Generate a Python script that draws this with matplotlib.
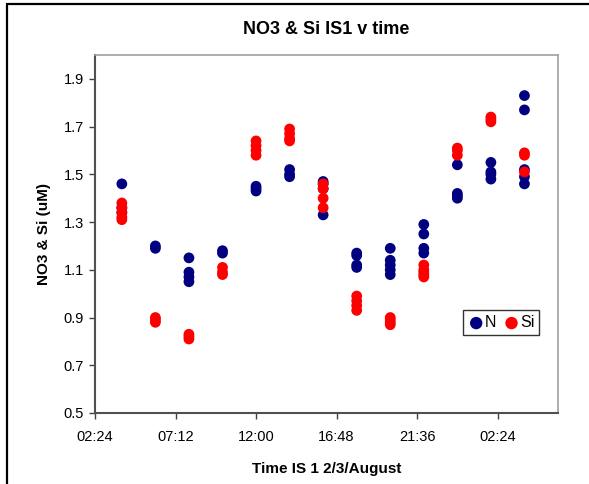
import matplotlib
matplotlib.use("Agg")
import matplotlib.pyplot as plt
from matplotlib.patches import Rectangle

plt.rcParams['font.family'] = ['Liberation Sans', 'DejaVu Sans']

# Sampling times, hours after midnight on 2 August
sample_hours = [4, 6, 8, 10, 12, 14, 16, 18, 20, 22, 24, 26, 28]

# Nitrate (N) concentrations, uM, per sampling time
n_values = [
    [1.46, 1.36, 1.34],
    [1.20, 1.19],
    [1.15, 1.09, 1.07, 1.05],
    [1.18, 1.17],
    [1.45, 1.44, 1.43],
    [1.52, 1.50, 1.49],
    [1.47, 1.46, 1.44, 1.33],
    [1.17, 1.16, 1.12, 1.11],
    [1.19, 1.14, 1.12, 1.10, 1.08],
    [1.29, 1.25, 1.19, 1.17],
    [1.54, 1.42, 1.41, 1.40],
    [1.55, 1.51, 1.50, 1.48],
    [1.83, 1.77, 1.52, 1.49, 1.46],
]

# Silicate (Si) concentrations, uM, per sampling time
si_values = [
    [1.38, 1.36, 1.34, 1.32, 1.31],
    [0.90, 0.89, 0.88],
    [0.83, 0.82, 0.81],
    [1.11, 1.09, 1.08],
    [1.64, 1.62, 1.60, 1.58],
    [1.69, 1.67, 1.65, 1.64],
    [1.46, 1.44, 1.40, 1.36],
    [0.99, 0.97, 0.95, 0.93],
    [0.90, 0.89, 0.88, 0.87],
    [1.12, 1.10, 1.09, 1.08, 1.07],
    [1.61, 1.60, 1.58],
    [1.74, 1.73, 1.72],
    [1.59, 1.58, 1.51],
]

tick_days = [0.1, 0.3, 0.5, 0.7, 0.9, 1.1]
tick_labels = ["02:24", "07:12", "12:00", "16:48", "21:36", "02:24"]
y_ticks = [0.5, 0.7, 0.9, 1.1, 1.3, 1.5, 1.7, 1.9]


def flatten(hours, groups):
    xs, ys = [], []
    for h, vals in zip(hours, groups):
        for v in vals:
            xs.append(h / 24.0)
            ys.append(v)
    return xs, ys


fig = plt.figure(figsize=(5.89, 4.84), dpi=100)
fig.patch.set_facecolor("white")

# chart-area frame
fig.add_artist(Rectangle((7 / 589, -0.2), 1.5, 1.2 - 4 / 484,
                         transform=fig.transFigure, fill=False,
                         edgecolor="black", linewidth=1.6))

ax = fig.add_axes([95 / 589, 1 - 413 / 484, 463 / 589, 358 / 484])

nx, ny = flatten(sample_hours, n_values)
sx, sy = flatten(sample_hours, si_values)
ax.scatter(nx, ny, s=60, color="#000080", edgecolors="none", label="N", zorder=3)
ax.scatter(sx, sy, s=60, color="#FF0000", edgecolors="none", label="Si", zorder=4)

ax.set_xlim(0.1, 1.25)
ax.set_ylim(0.5, 2.0)
ax.set_xticks(tick_days)
ax.set_xticklabels(tick_labels)
ax.set_yticks(y_ticks)
ax.set_yticklabels([f"{v:.1f}" for v in y_ticks])
ax.tick_params(axis="both", direction="out", length=4, width=1,
               color="#404040", labelsize=10.5, pad=4)
ax.tick_params(axis="x", pad=8)

for side in ("left", "bottom"):
    ax.spines[side].set_color("#505050")
    ax.spines[side].set_linewidth(1.5)
for side in ("top", "right"):
    ax.spines[side].set_color("#A0A0A0")
    ax.spines[side].set_linewidth(1.2)

ax.set_title("NO3 & Si IS1 v time", fontsize=13, fontweight="bold", pad=15)
ax.set_xlabel("Time IS 1 2/3/August", fontsize=11, fontweight="bold", labelpad=13)
ax.set_ylabel("NO3 & Si (uM)", fontsize=11, fontweight="bold", labelpad=9)

leg = ax.legend(loc="center", bbox_to_anchor=(0.877, 0.252), ncol=2,
                fontsize=11.5, frameon=True, fancybox=False, borderpad=0.3,
                handletextpad=0.0, columnspacing=0.4, handlelength=1.1,
                markerscale=1.15, borderaxespad=0)
leg.get_frame().set_edgecolor("black")
leg.get_frame().set_linewidth(1.0)

fig.savefig("out.png", dpi=100, facecolor="white")
